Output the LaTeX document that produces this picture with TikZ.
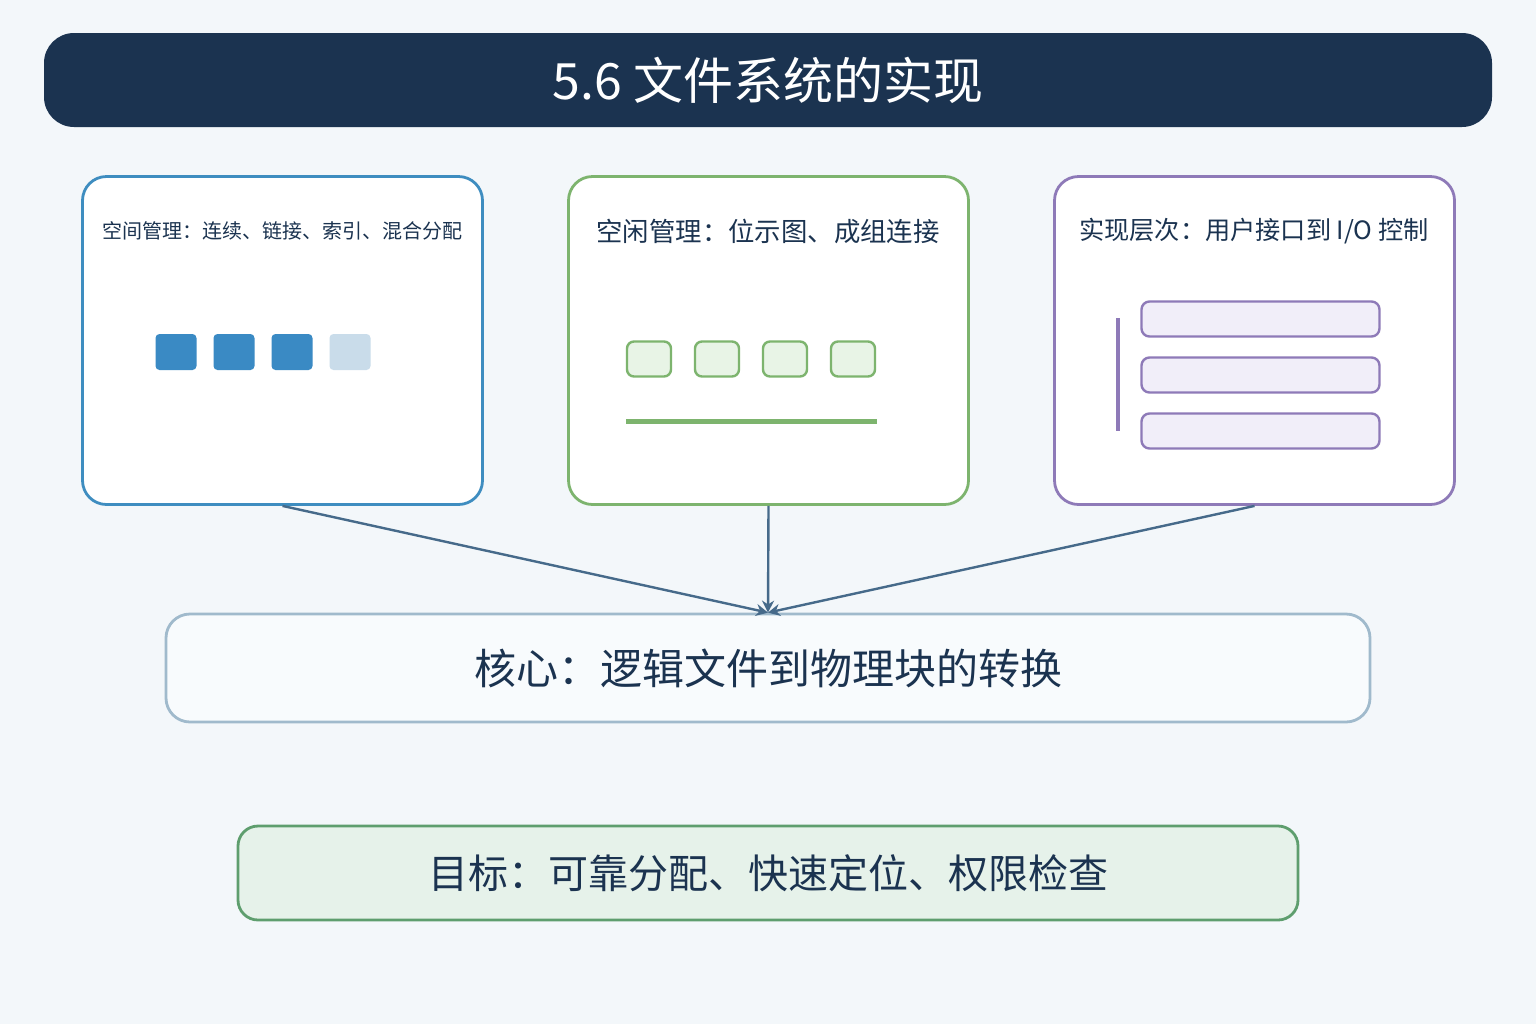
\documentclass[tikz,border=0pt]{standalone}
\usepackage{fontspec}
\setmainfont{Noto Sans CJK SC}
\usepackage{xcolor}
\usetikzlibrary{positioning,arrows.meta}
\definecolor{bgcol}{HTML}{F3F7FA}
\definecolor{navy}{HTML}{1B3350}
\definecolor{bluecol}{HTML}{3E8DC0}
\definecolor{blueblk}{HTML}{3A8AC4}
\definecolor{bluepale}{HTML}{C9DCEA}
\definecolor{greencol}{HTML}{7DB46E}
\definecolor{greenpale}{HTML}{E8F4E6}
\definecolor{purplecol}{HTML}{8E7AB8}
\definecolor{purplepale}{HTML}{F1EEF9}
\definecolor{arrowcol}{HTML}{466A8A}
\definecolor{corecol}{HTML}{A0BACC}
\definecolor{corefill}{HTML}{F8FBFD}
\definecolor{goalcol}{HTML}{5E9E6E}
\definecolor{goalfill}{HTML}{E6F2EA}

\begin{document}
\begin{tikzpicture}[x=0.5pt, y=-0.5pt,
  card/.style={draw, fill=white, line width=1.4pt, rounded corners=12pt,
    minimum width=200pt, minimum height=164pt},
  cardtext/.style={text=navy, anchor=center},
  link/.style={draw=arrowcol, line width=1.2pt, -{Stealth[length=6pt,width=6pt]}}]
\fill[bgcol] (0,0) rectangle (1536,1024);

% title
\node[fill=navy, rounded corners=15pt, minimum width=724pt, minimum height=47pt,
  text=white, font=\fontsize{25}{29}\selectfont] (title) at (768,80) {5.6 文件系统的实现};

% three cards
\node[card, draw=bluecol] (space) at (282.5,340.5) {};
\node[card, draw=greencol] (free) at (768.5,340.5) {};
\node[card, draw=purplecol] (layer) at (1254.5,340.5) {};

\node[cardtext, font=\fontsize{10}{12}\selectfont] (spacet) at (282,231) {空间管理：连续、链接、索引、混合分配};
\node[cardtext, font=\fontsize{13.2}{16}\selectfont] (freet) at (768,231) {空闲管理：位示图、成组连接};
\node[cardtext, font=\fontsize{12.6}{15}\selectfont] (layert) at (1254,231) {实现层次：用户接口到 I/O 控制};

% blocks
\foreach \x/\c in {176/blueblk, 234/blueblk, 292/blueblk, 350/bluepale}
  \node[fill=\c, rounded corners=2pt, minimum width=20.5pt, minimum height=18pt, inner sep=0pt]
    (blk\x) at (\x,352) {};

% bitmap
\foreach \x in {649, 717, 785, 853}
  \node[draw=greencol, fill=greenpale, line width=1.2pt, rounded corners=3.5pt,
    minimum width=22pt, minimum height=17.5pt, inner sep=0pt] (bit\x) at (\x,359) {};
\draw[greencol, line width=2.5pt] (626,421) -- (877,421);

% layers
\foreach \y in {319, 375, 431}
  \node[draw=purplecol, fill=purplepale, line width=1.2pt, rounded corners=4pt,
    minimum width=119pt, minimum height=17.5pt, inner sep=0pt] (lay\y) at (1260.5,\y) {};
\draw[purplecol, line width=2pt] (1118,318) -- (1118,431);

% core
\node[draw=corecol, fill=corefill, line width=1.4pt, rounded corners=12pt,
  minimum width=602pt, minimum height=54pt, text=navy,
  font=\fontsize{21}{25}\selectfont] (core) at (768,668) {核心：逻辑文件到物理块的转换};

\draw[link] (space.south) -- (core.north);
\draw[link] (free.south) -- (core.north);
\draw[link] (layer.south) -- (core.north);

% goal
\node[draw=goalcol, fill=goalfill, line width=1.4pt, rounded corners=10pt,
  minimum width=530pt, minimum height=47pt, text=navy,
  font=\fontsize{20}{24}\selectfont] (goal) at (768,873) {目标：可靠分配、快速定位、权限检查};
\end{tikzpicture}
\end{document}
